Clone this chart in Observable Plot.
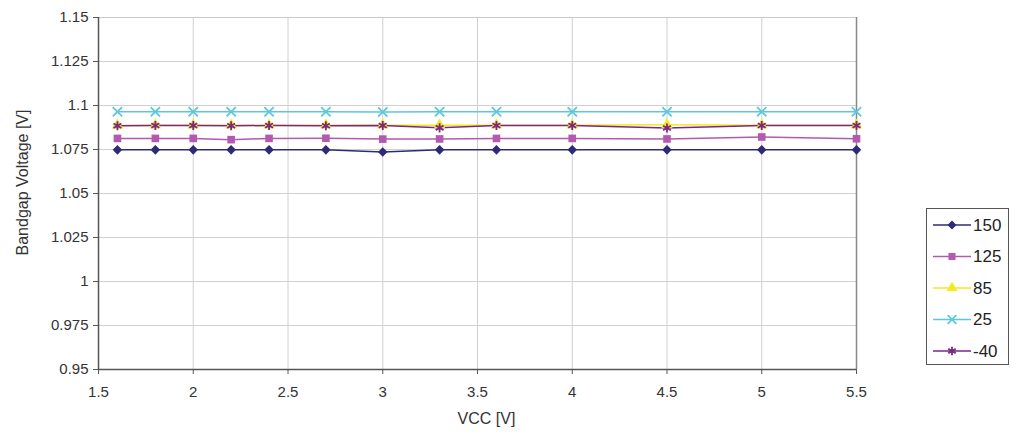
<!DOCTYPE html>
<html><head><meta charset="utf-8">
<script src="https://cdn.jsdelivr.net/npm/d3@7"></script>
<script src="https://cdn.jsdelivr.net/npm/@observablehq/plot@0.6"></script>
<style>
body{margin:0;background:#fff;font-family:"Liberation Sans",Arial,sans-serif}
#wrap{position:relative;width:1018px;height:438px}
#legend{position:absolute;left:926px;top:208px;width:83px;height:157px;border:1px solid #555;box-sizing:border-box;background:#fff}
</style>
</head><body><div id="wrap"><div id="legend"></div></div>
<script>
const series = ["150", "125", "85", "25", "-40"];
const colors = ["#2e2a78", "#b35ab0", "#f2ea1c", "#5cc8da", "#7a2787"];
const symbols = ["diamond2", "square", "triangle", "times", "asterisk"];
const vcc = [1.6, 1.8, 2.0, 2.2, 2.4, 2.7, 3.0, 3.3, 3.6, 4.0, 4.5, 5.0, 5.5];
const v150 = [1.0748, 1.0748, 1.0748, 1.0748, 1.0748, 1.0748, 1.0736, 1.0748, 1.0748, 1.0748, 1.0748, 1.0748, 1.0748];
const v125 = [1.0813, 1.0813, 1.0813, 1.0806, 1.0813, 1.0814, 1.0809, 1.0810, 1.0813, 1.0813, 1.0810, 1.0821, 1.0811];
const v85 = [1.0887, 1.0888, 1.0888, 1.0888, 1.0888, 1.0888, 1.0888, 1.0888, 1.0888, 1.0888, 1.0890, 1.0888, 1.0888];
const v25 = [1.0964, 1.0964, 1.0965, 1.0965, 1.0965, 1.0964, 1.0963, 1.0964, 1.0965, 1.0965, 1.0965, 1.0965, 1.0964];
const vm40 = [1.0885, 1.0886, 1.0886, 1.0885, 1.0886, 1.0885, 1.0886, 1.0873, 1.0886, 1.0886, 1.0872, 1.0886, 1.0886];
const yTicks = [0.95, 0.975, 1, 1.025, 1.05, 1.075, 1.1, 1.125, 1.15];
const xTicks = [1.5, 2, 2.5, 3, 3.5, 4, 4.5, 5, 5.5];

const values = [v150, v125, v85, v25, vm40];
const data = [];
series.forEach((s, i) => vcc.forEach((x, j) => data.push({s, x, y: values[i][j]})));
const filled = data.filter(d => ["150", "125", "85"].includes(d.s));
const stroked = data.filter(d => ["25", "-40"].includes(d.s));

const chart = Plot.plot({
  width: 1018, height: 438,
  marginLeft: 98, marginRight: 162, marginTop: 17, marginBottom: 69,
  style: {fontFamily: '"Liberation Sans", Arial, sans-serif', fontSize: "15px", color: "#333", background: "#fff"},
  x: {domain: [1.5, 5.5], label: null},
  y: {domain: [0.95, 1.15], label: null},
  color: {domain: series, range: colors},
  symbol: {domain: series, range: symbols},
  marks: [
    Plot.gridY(yTicks, {stroke: "#d0d0d0", strokeOpacity: 1}),
    Plot.gridX(xTicks, {stroke: "#d0d0d0", strokeOpacity: 1}),
    Plot.ruleX([5.5], {stroke: "#888", strokeWidth: 1.5}),
    Plot.ruleY([1.15], {stroke: "#c8c8c8"}),
    Plot.ruleX([1.5], {stroke: "#555", strokeWidth: 1.5}),
    Plot.ruleY([0.95], {stroke: "#555", strokeWidth: 1.5}),
    Plot.axisX({ticks: xTicks, tickFormat: d => String(d), tickSize: 5, tickPadding: 12, stroke: "#555", fill: "#333", fontSize: 15, label: null}),
    Plot.axisY({ticks: yTicks, tickFormat: d => String(d), tickSize: 5, tickPadding: 5, stroke: "#555", fill: "#333", fontSize: 15, label: null}),
    Plot.line(data, {x: "x", y: "y", z: "s", stroke: "s", strokeWidth: 1.5}),
    Plot.dot(filled, {x: "x", y: "y", fill: "s", symbol: "s", r: 4.3, stroke: null}),
    Plot.dot(stroked, {x: "x", y: "y", stroke: "s", symbol: "s", r: 4.3, strokeWidth: 1.8}),
    Plot.text(["Bandgap Voltage [V]"], {frameAnchor: "left", dx: -76, dy: -11, rotate: -90, textAnchor: "middle", fontSize: 16, fill: "#333"}),
    Plot.text(["VCC [V]"], {frameAnchor: "bottom", dx: 9, dy: 54, textAnchor: "middle", fontSize: 16, fill: "#333"})
  ]
});
document.getElementById("wrap").prepend(chart);

// legend
const symMap = {diamond2: d3.symbolDiamond2, square: d3.symbolSquare, triangle: d3.symbolTriangle, times: d3.symbolTimes, asterisk: d3.symbolAsterisk};
const lg = d3.select("#legend").append("svg").attr("width", 81).attr("height", 155);
series.forEach((s, i) => {
  const g = lg.append("g").attr("transform", `translate(0,${16 + i * 31.5})`);
  g.append("line").attr("x1", 6).attr("x2", 44).attr("stroke", colors[i]).attr("stroke-width", 1.5);
  const isStroke = i >= 3;
  g.append("path").attr("transform", "translate(25,0)")
    .attr("d", d3.symbol(symMap[symbols[i]], Math.PI * 16)())
    .attr("fill", isStroke ? "none" : colors[i])
    .attr("stroke", isStroke ? colors[i] : "none")
    .attr("stroke-width", 1.8);
  g.append("text").attr("x", 46).attr("dy", "0.35em").attr("font-size", 17)
    .attr("font-family", '"Liberation Sans", Arial, sans-serif').attr("fill", "#222").text(s);
});
</script>
</body></html>
